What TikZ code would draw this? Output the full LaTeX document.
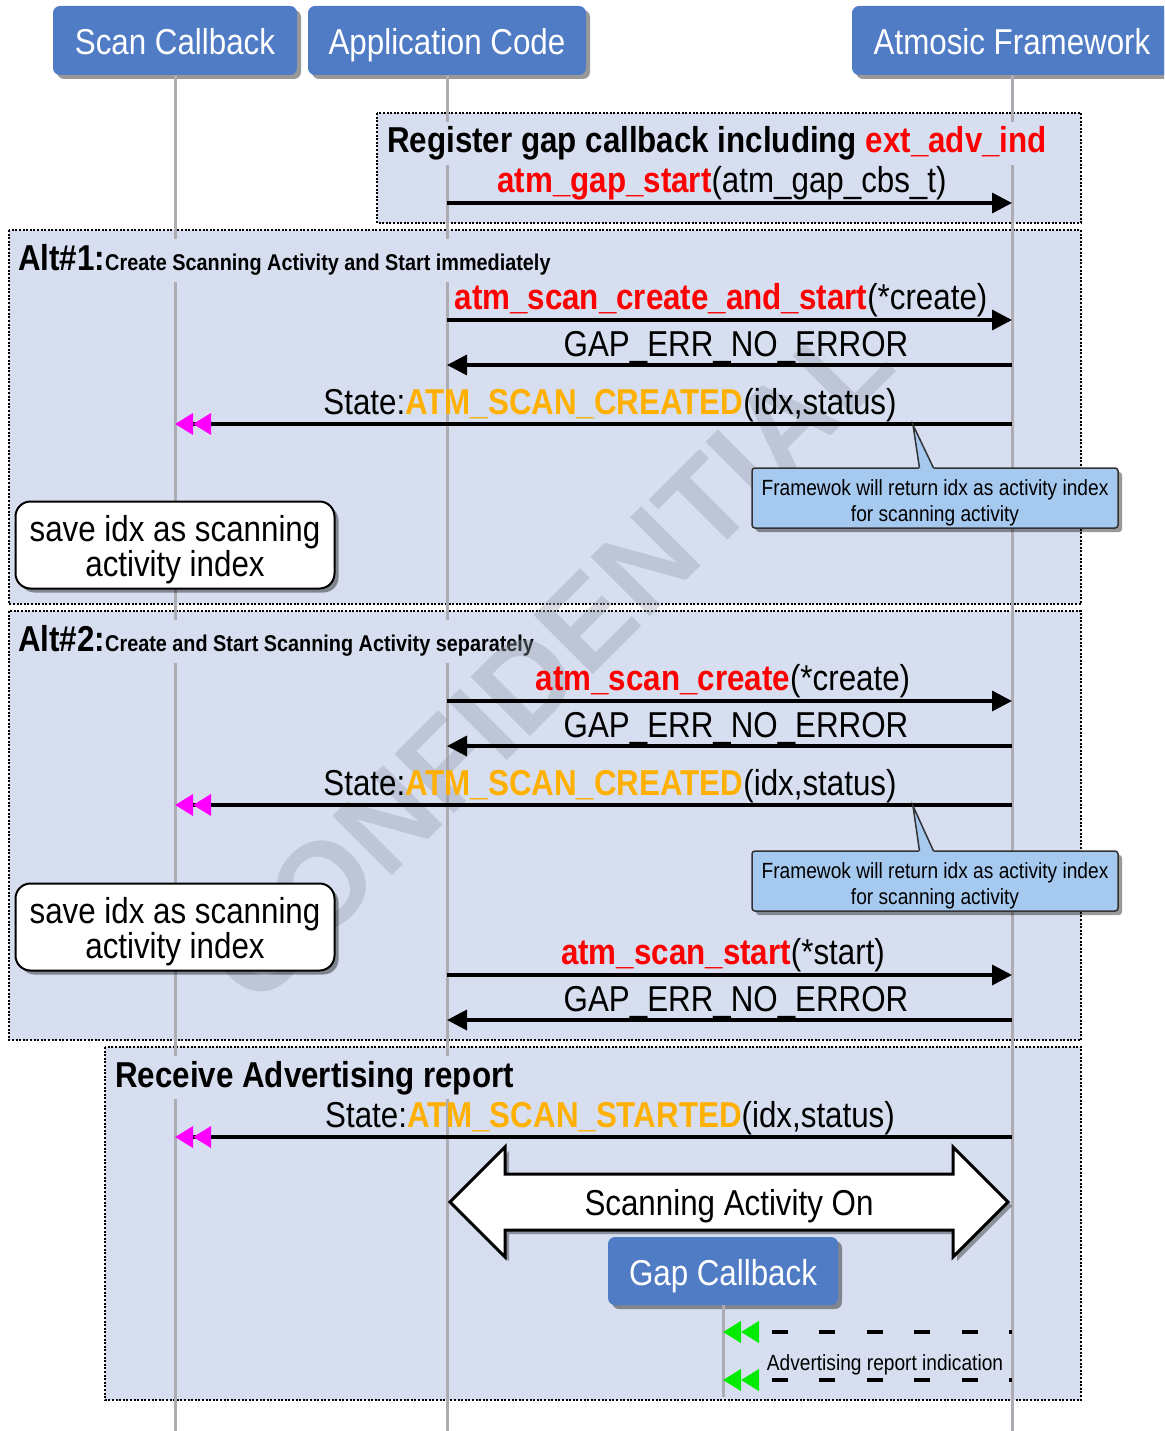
\documentclass[tikz,border=0pt]{standalone}
\usepackage{fontspec}
\setmainfont{Liberation Sans}[FakeStretch=0.87]
\newfontfamily\wmfont{Liberation Sans}
\usetikzlibrary{arrows.meta,shadows}

\definecolor{hdrblue}{RGB}{80,124,197}
\definecolor{framebg}{RGB}{214,222,240}
\definecolor{notebg}{RGB}{166,201,240}
\definecolor{lifegray}{RGB}{172,172,178}
\definecolor{fnred}{RGB}{255,0,0}
\definecolor{stateor}{RGB}{255,176,0}
\definecolor{evmag}{RGB}{255,0,255}
\definecolor{evgreen}{RGB}{0,235,0}
\definecolor{wmgray}{RGB}{150,155,168}

\newcommand\bigtxt{\fontsize{36}{38}\selectfont}
\newcommand\smalltxt{\fontsize{22}{26}\selectfont}
\newcommand\subtxt{\fontsize{22.8}{24}\selectfont}
\newcommand\apifn[1]{\textbf{\textcolor{fnred}{#1}}}
\newcommand\stname[1]{\textbf{\textcolor{stateor}{#1}}}

\begin{document}
\begin{tikzpicture}[x=1pt,y=-1pt,font=\bigtxt,
  hdr/.style={rounded corners=7pt, fill=hdrblue, text=white, inner sep=0pt,
    minimum height=69pt, text height=36pt, text depth=7pt,
    drop shadow={shadow xshift=4pt, shadow yshift=-4pt, fill=black, opacity=0.4}},
  frm/.style={fill=framebg, draw=black, line width=1.3pt, dash pattern=on 2pt off 1.6pt},
  ttl/.style={fill=framebg, anchor=base west, inner xsep=2pt, inner ysep=5pt,
    text height=26pt, text depth=7pt, font=\bigtxt\bfseries},
  life/.style={draw=lifegray, line width=3pt},
  lbl/.style={anchor=base, inner sep=0pt},
  msg/.style={line width=3.5pt, -{Triangle[length=20pt,width=20pt]}},
  evt/.style={line width=3.5pt,
    -{Triangle[length=18pt,width=21pt,color=evmag] Triangle[length=18pt,width=21pt,color=evmag]}},
  ind/.style={line width=4pt, dash pattern=on 16pt off 31.5pt, dash phase=13pt,
    -{Triangle[length=18pt,width=21pt,color=evgreen] Triangle[length=18pt,width=21pt,color=evgreen]}},
  note/.style={draw=black!80, line width=1.5pt, fill=notebg, rounded corners=3pt,
    minimum width=366pt, minimum height=60pt,
    drop shadow={shadow xshift=4pt, shadow yshift=-4pt, fill=black, opacity=0.4}},
  notetxt/.style={align=center, inner sep=0pt, font=\smalltxt},
  savebox/.style={draw=black, line width=2pt, fill=white, rounded corners=15pt,
    minimum width=319pt, minimum height=87pt,
    drop shadow={shadow xshift=4pt, shadow yshift=-4pt, fill=black, opacity=0.4}},
  savetxt/.style={align=center, inner sep=0pt, font=\fontsize{36}{35}\selectfont}
]
\useasboundingbox (0,0) rectangle (1164,1431);
\clip (0,0) rectangle (1164,1431);

% participants
\node[hdr, minimum width=244pt] (scan) at (175,40.5) {Scan Callback};
\node[hdr, minimum width=278pt] (app) at (447,40.5) {Application Code};
\node[hdr, minimum width=320pt] (atm) at (1012,40.5) {Atmosic Framework};

% combined fragments
\draw[frm] (377,113) rectangle (1081,223);
\draw[frm] (9,230) rectangle (1081,604);
\draw[frm] (9,611) rectangle (1081,1040);
\draw[frm] (105,1047) rectangle (1081,1400);

% lifelines
\draw[life] (scan.south) -- (scan.south |- 0,1431);
\draw[life] (app.south) -- (app.south |- 0,1431);
\draw[life] (atm.south) -- (atm.south |- 0,1431);

% fragment titles
\node[ttl] (t0) at (385,153) {Register gap callback including \textcolor{fnred}{ext\_adv\_ind}};
\node[ttl] (t1) at (16,270) {Alt\#1:{\subtxt Create Scanning Activity and Start immediately}};
\node[ttl] (t2) at (16,651) {Alt\#2:{\subtxt Create and Start Scanning Activity separately}};
\node[ttl] (t3) at (113,1087) {Receive Advertising report};

% watermark
\node[font={\wmfont\fontsize{122}{122}\bfseries}, text=wmgray, opacity=0.36, rotate=45]
  (wm) at (548,660) {CONFIDENTIAL};

% registration
\node[lbl] (m0l) at (722,193) {\apifn{atm\_gap\_start}(atm\_gap\_cbs\_t)};
\draw[msg] (app |- 0,203) -- (atm |- 0,203);

% alternative 1
\node[lbl] (m1l) at (721,309) {\apifn{atm\_scan\_create\_and\_start}(*create)};
\draw[msg] (app |- 0,320) -- (atm |- 0,320);
\node[lbl] (r1l) at (736,356) {GAP\_ERR\_NO\_ERROR};
\draw[msg] (atm |- 0,365) -- (app |- 0,365);
\node[lbl] (s1l) at (610,414) {State:\stname{ATM\_SCAN\_CREATED}(idx,status)};
\draw[evt] (atm |- 0,424) -- (scan |- 0,424);

\node[note] (n1) at (935,498) {};
\fill[notebg] (919,469.5) -- (913,425) -- (934,469.5) -- cycle;
\draw[line width=1.5pt, draw=black!80] (919.5,468) -- (913,425) -- (933.5,468);
\node[notetxt] (n1t) at (935,503) {Framewok will return idx as activity index\\for scanning activity};
\node[savebox] (sv1) at (175,545) {};
\node[savetxt] (sv1t) at (175,550) {save idx as scanning\\activity index};

% alternative 2
\node[lbl] (m2l) at (723,690) {\apifn{atm\_scan\_create}(*create)};
\draw[msg] (app |- 0,701) -- (atm |- 0,701);
\node[lbl] (r2l) at (736,737) {GAP\_ERR\_NO\_ERROR};
\draw[msg] (atm |- 0,746) -- (app |- 0,746);
\node[lbl] (s2l) at (610,795) {State:\stname{ATM\_SCAN\_CREATED}(idx,status)};
\draw[evt] (atm |- 0,805) -- (scan |- 0,805);

\node[note] (n2) at (935,881) {};
\fill[notebg] (919,852.5) -- (913,806) -- (934,852.5) -- cycle;
\draw[line width=1.5pt, draw=black!80] (919.5,851) -- (913,806) -- (933.5,851);
\node[notetxt] (n2t) at (935,886) {Framewok will return idx as activity index\\for scanning activity};
\node[savebox] (sv2) at (175,927) {};
\node[savetxt] (sv2t) at (175,932) {save idx as scanning\\activity index};

\node[lbl] (m3l) at (723,964) {\apifn{atm\_scan\_start}(*start)};
\draw[msg] (app |- 0,975) -- (atm |- 0,975);
\node[lbl] (r3l) at (736,1011) {GAP\_ERR\_NO\_ERROR};
\draw[msg] (atm |- 0,1020) -- (app |- 0,1020);

% advertising reports
\node[lbl] (s3l) at (610,1127) {State:\stname{ATM\_SCAN\_STARTED}(idx,status)};
\draw[evt] (atm |- 0,1137) -- (scan |- 0,1137);

\filldraw[fill=white, draw=black, line width=3pt, line join=miter,
  drop shadow={shadow xshift=4pt, shadow yshift=-4pt, fill=black, opacity=0.35}]
  (450,1202) -- (505,1147) -- (505,1174) -- (953,1174) -- (953,1147) -- (1008,1202)
  -- (953,1257) -- (953,1230) -- (505,1230) -- (505,1257) -- cycle;
\node[lbl] (act) at (729,1215) {Scanning Activity On};

\node[hdr, minimum width=230pt, minimum height=68pt] (gapcb) at (723,1271) {Gap Callback};
\draw[life] (gapcb.south) -- (gapcb.south |- 0,1397);

\draw[ind] (atm |- 0,1332) -- (gapcb |- 0,1332);
\draw[ind] (atm |- 0,1380) -- (gapcb |- 0,1380);
\node[lbl, font=\smalltxt] (advl) at (885,1370) {Advertising report indication};
\end{tikzpicture}
\end{document}
